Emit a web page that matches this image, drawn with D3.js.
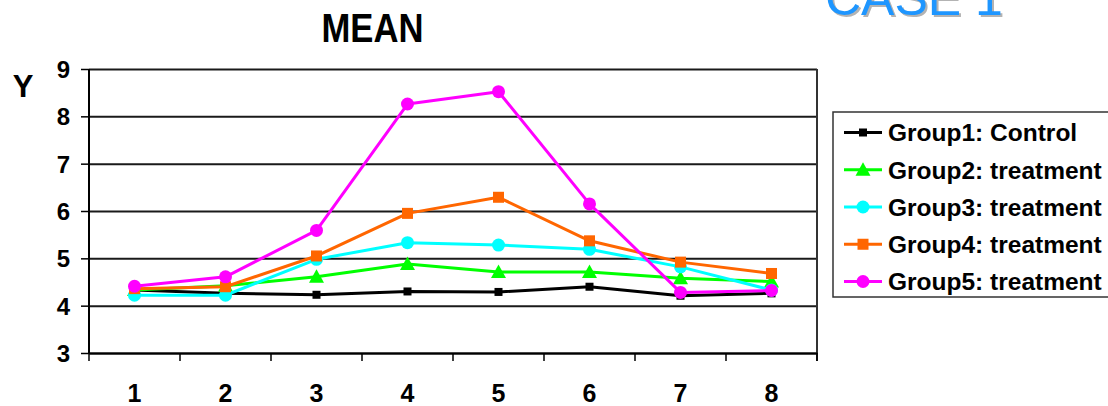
<!DOCTYPE html>
<html>
<head>
<meta charset="utf-8">
<script src="https://cdn.jsdelivr.net/npm/d3@7"></script>
<style>
  html, body { margin: 0; padding: 0; background: #fff; }
  svg { display: block; font-family: "Liberation Sans", Arial, sans-serif; }
</style>
</head>
<body>
<svg id="chart" width="1108" height="406"></svg>
<script>
// Time points along the x axis
const categories = ["1", "2", "3", "4", "5", "6", "7", "8"];
const yTicks = [3, 4, 5, 6, 7, 8, 9];

// Mean response per group
const seriesNames = ["Group1: Control", "Group2: treatment", "Group3: treatment", "Group4: treatment", "Group5: treatment"];
const group1 = [4.33, 4.26, 4.23, 4.30, 4.29, 4.40, 4.21, 4.26];
const group2 = [4.33, 4.42, 4.61, 4.88, 4.71, 4.71, 4.58, 4.51];
const group3 = [4.22, 4.22, 4.98, 5.33, 5.28, 5.19, 4.82, 4.33];
const group4 = [4.36, 4.40, 5.05, 5.95, 6.29, 5.37, 4.92, 4.68];
const group5 = [4.41, 4.61, 5.59, 8.26, 8.52, 6.15, 4.28, 4.32];

const seriesColors = ["#000000", "#00ff00", "#00ffff", "#ff6600", "#ff00ff"];
const seriesMarkers = ["smallSquare", "triangle", "circle", "square", "bigCircle"];
const series = [group1, group2, group3, group4, group5].map((values, i) => ({
  name: seriesNames[i], values, color: seriesColors[i], marker: seriesMarkers[i]
}));

const svg = d3.select("#chart");
const plot = { left: 89, right: 817, top: 69, bottom: 353 };

const x = d3.scaleBand().domain(categories).range([plot.left, plot.right]).padding(0);
const y = d3.scaleLinear().domain([3, 9]).range([plot.bottom, plot.top]);

// Horizontal gridlines
svg.append("g")
  .attr("transform", `translate(${plot.left},0)`)
  .call(d3.axisLeft(y).tickValues(yTicks).tickSize(-(plot.right - plot.left)).tickFormat(""))
  .call(g => g.select(".domain").remove())
  .call(g => g.selectAll("line").attr("stroke", "#1a1a1a").attr("stroke-width", 2));

// Right frame edge
svg.append("line")
  .attr("x1", plot.right).attr("x2", plot.right)
  .attr("y1", y(9)).attr("y2", y(3) + 8)
  .attr("stroke", "#333").attr("stroke-width", 2);

// Y axis
svg.append("g")
  .attr("transform", `translate(${plot.left},0)`)
  .call(d3.axisLeft(y).tickValues(yTicks).tickSize(8).tickPadding(11).tickFormat(d3.format("d")))
  .call(g => g.select(".domain").attr("stroke", "#000").attr("stroke-width", 2).attr("d", `M0,${y(9)}V${y(3)}`))
  .call(g => g.selectAll("line").attr("stroke", "#000").attr("stroke-width", 1.5))
  .call(g => g.selectAll("text")
    .attr("fill", "#000").attr("font-size", 24).attr("font-weight", "bold")
    .attr("font-family", "Liberation Sans, Arial, sans-serif").attr("dy", "0.36em"));

// X axis: labels centred in each band, ticks on band boundaries
const xAxis = svg.append("g")
  .attr("transform", `translate(0,${plot.bottom})`)
  .call(d3.axisBottom(x).tickSize(0).tickPadding(31))
  .call(g => g.select(".domain").attr("stroke", "#000").attr("stroke-width", 2))
  .call(g => g.selectAll("text")
    .attr("fill", "#000").attr("font-size", 25).attr("font-weight", "bold")
    .attr("font-family", "Liberation Sans, Arial, sans-serif"));

const boundaries = categories.map(c => x(c)).concat([x.range()[1]]);
xAxis.selectAll("line.boundary")
  .data(boundaries)
  .join("line")
  .attr("class", "boundary")
  .attr("x1", d => d).attr("x2", d => d)
  .attr("y1", 0).attr("y2", 8)
  .attr("stroke", "#000").attr("stroke-width", 1.5);

// Marker drawing
function drawMarker(sel, type, color) {
  if (type === "smallSquare") {
    sel.append("rect").attr("x", -4).attr("y", -4).attr("width", 8).attr("height", 8).attr("fill", color);
  } else if (type === "square") {
    sel.append("rect").attr("x", -5.5).attr("y", -5.5).attr("width", 11).attr("height", 11).attr("fill", color);
  } else if (type === "triangle") {
    sel.append("path").attr("d", "M0,-7.5L7.5,6L-7.5,6Z").attr("fill", color);
  } else {
    sel.append("circle").attr("r", 6.5).attr("fill", color);
  }
}

const line = d3.line()
  .x((d, i) => x(categories[i]) + x.bandwidth() / 2)
  .y(d => y(d));

series.forEach(s => {
  const g = svg.append("g");
  g.append("path")
    .datum(s.values)
    .attr("d", line)
    .attr("fill", "none")
    .attr("stroke", s.color)
    .attr("stroke-width", 3)
    .attr("stroke-linejoin", "round");
  g.selectAll("g.pt")
    .data(s.values)
    .join("g")
    .attr("class", "pt")
    .attr("transform", (d, i) => `translate(${x(categories[i]) + x.bandwidth() / 2},${y(d)})`)
    .each(function () { drawMarker(d3.select(this), s.marker, s.color); });
});

// Title
svg.append("text")
  .attr("x", 372.5).attr("y", 41.5)
  .attr("text-anchor", "middle")
  .attr("font-size", 40).attr("font-weight", "bold")
  .attr("textLength", 102).attr("lengthAdjust", "spacingAndGlyphs")
  .text("MEAN");

// Y axis title
svg.append("text")
  .attr("x", 23).attr("y", 97)
  .attr("text-anchor", "middle")
  .attr("font-size", 31).attr("font-weight", "bold")
  .text("Y");

// Slide heading, mostly above the visible area
const heading = svg.append("g");
heading.append("text")
  .attr("x", 827).attr("y", 16.5)
  .attr("font-size", 50).attr("fill", "#b3b3b3")
  .text("CASE 1");
heading.append("text")
  .attr("x", 825).attr("y", 14.5)
  .attr("font-size", 50).attr("fill", "#1e96ff")
  .text("CASE 1");

// Legend
const legend = svg.append("g").attr("transform", "translate(833,112)");
legend.append("rect")
  .attr("x", 0).attr("y", 0).attr("width", 300).attr("height", 185)
  .attr("fill", "#fff").attr("stroke", "#333").attr("stroke-width", 1.5);

const rowY = d3.scalePoint().domain(seriesNames).range([20.5, 169.5]);
const items = legend.selectAll("g.item")
  .data(series)
  .join("g")
  .attr("class", "item")
  .attr("transform", d => `translate(0,${rowY(d.name)})`);
items.append("line")
  .attr("x1", 11).attr("x2", 49).attr("y1", 0).attr("y2", 0)
  .attr("stroke", d => d.color).attr("stroke-width", 3);
items.append("g")
  .attr("transform", "translate(30,0)")
  .each(function (d) { drawMarker(d3.select(this), d.marker, d.color); });
items.append("text")
  .attr("x", 55).attr("y", 0).attr("dy", "0.36em")
  .attr("font-size", 24.5).attr("font-weight", "bold")
  .text(d => d.name);
</script>
</body>
</html>
